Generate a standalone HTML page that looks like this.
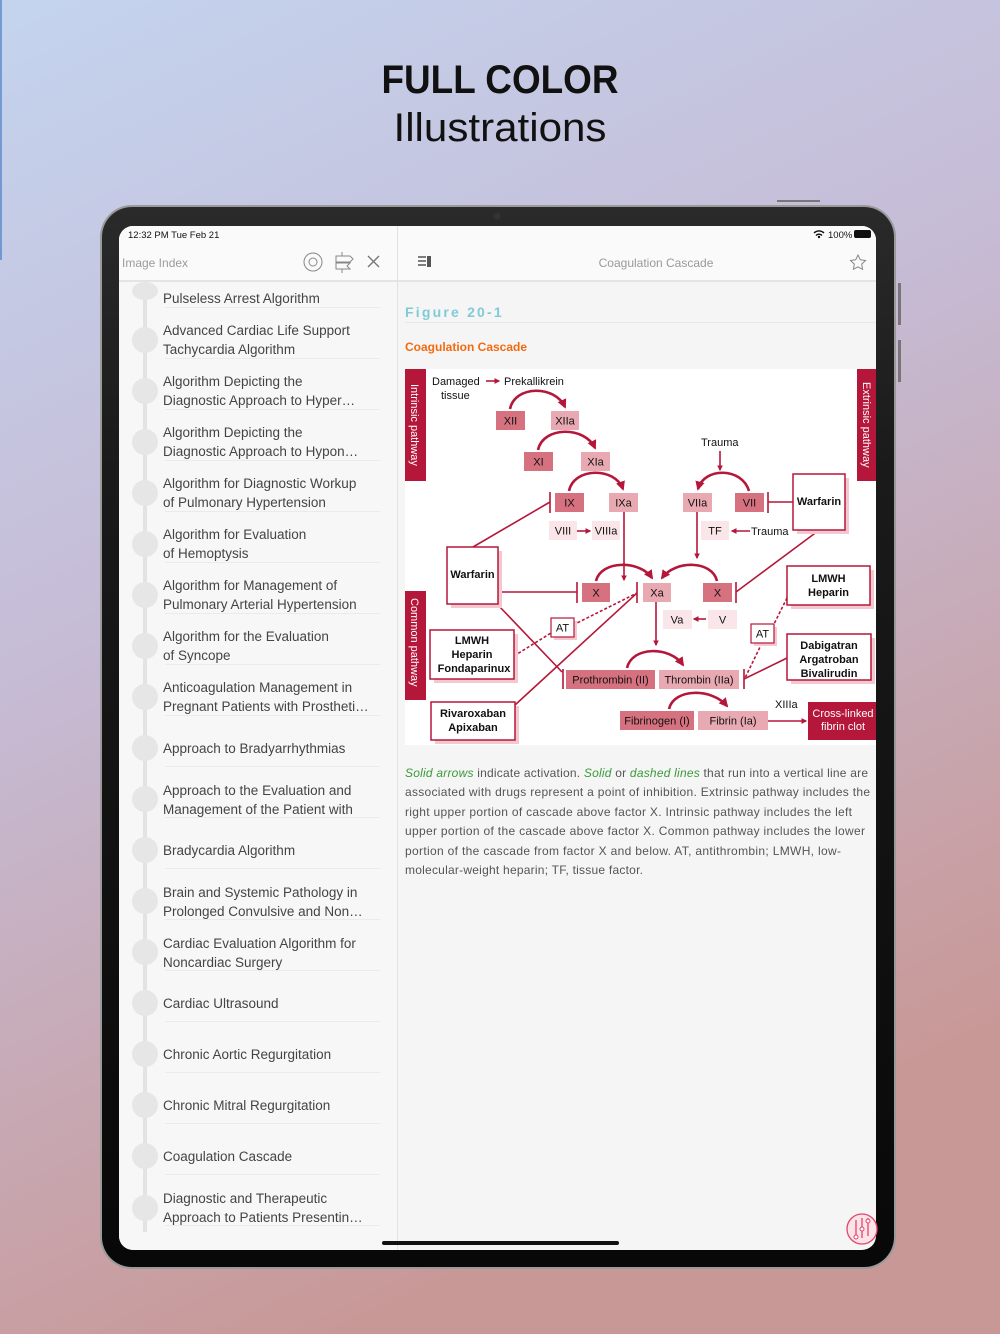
<!DOCTYPE html>
<html><head><meta charset="utf-8"><style>
html,body{margin:0;padding:0;width:1000px;height:1334px;overflow:hidden}
svg{display:block}
text{font-family:"Liberation Sans",sans-serif}
</style></head><body>
<svg width="1000" height="1334" viewBox="0 0 1000 1334" xmlns="http://www.w3.org/2000/svg">
<defs>
<linearGradient id="bg" x1="0" y1="0" x2="0.35" y2="1">
<stop offset="0" stop-color="#c4d4ef"/><stop offset="0.45" stop-color="#c6bcd6"/><stop offset="1" stop-color="#c89896"/>
</linearGradient>
<linearGradient id="bz" x1="0" y1="0" x2="0" y2="1">
<stop offset="0" stop-color="#2a2a2a"/><stop offset="0.25" stop-color="#1a1a1a"/><stop offset="1" stop-color="#080808"/>
</linearGradient>
<marker id="ah" viewBox="0 0 10 10" refX="8" refY="5" markerWidth="3.6" markerHeight="3.6" orient="auto"><path d="M0,0 L10,5 L0,10 z" fill="#b5173a"/></marker>
</defs>
<rect width="1000" height="1334" fill="url(#bg)"/>
<rect x="0" y="0" width="2" height="260" fill="#3a78c0" opacity="0.6"/>
<text x="500" y="93" text-anchor="middle" font-size="40" font-weight="bold" fill="#111" textLength="237" lengthAdjust="spacingAndGlyphs">FULL COLOR</text>
<text x="500" y="141" text-anchor="middle" font-size="40" fill="#111" textLength="213" lengthAdjust="spacingAndGlyphs">Illustrations</text>
<rect x="777" y="200" width="43" height="2" fill="#777"/>
<rect x="898" y="283" width="3" height="42" fill="#777"/>
<rect x="898" y="340" width="3" height="42" fill="#777"/>
<!-- tablet -->
<rect x="100" y="205" width="796" height="1064" rx="32" fill="#9a9a9a"/>
<rect x="102" y="207" width="792" height="1060" rx="30" fill="url(#bz)"/>
<circle cx="497" cy="216" r="3.5" fill="#333"/>
<rect x="119" y="226" width="757" height="1024" rx="14" fill="#f5f5f5"/>
<path d="M133,226 H397 V1250 H133 A14,14 0 0 1 119,1236 V240 A14,14 0 0 1 133,226z" fill="#f7f7f7"/>
<path d="M133,226 H862 A14,14 0 0 1 876,240 V281 H119 V240 A14,14 0 0 1 133,226z" fill="#fafafa"/>
<rect x="119" y="280" width="757" height="2" fill="#e4e4e4"/>
<rect x="397" y="226" width="1" height="1024" fill="#e2e2e2"/>
<text x="128" y="238" font-size="9.5" fill="#111">12:32 PM   Tue Feb 21</text>
<text x="828" y="238" font-size="9.5" fill="#111">100%</text>
<path d="M814,233 a7,7 0 0 1 10,0 M816,235.5 a4,4 0 0 1 6,0" stroke="#111" stroke-width="1.4" fill="none"/>
<circle cx="819" cy="237" r="1.2" fill="#111"/>
<rect x="854" y="230" width="17" height="8" rx="2" fill="#111"/>
<text x="122" y="267" font-size="12" fill="#9a9a9a">Image Index</text>
<circle cx="313" cy="262" r="9" fill="none" stroke="#888" stroke-width="1"/>
<circle cx="313" cy="262" r="4" fill="none" stroke="#888" stroke-width="1"/>
<path d="M336,256 h14 l3,3 l-3,3 h-14 z M336,263 h14 l-3,3 l3,3 h-14 z M342,252 v4 M342,269 v4" stroke="#888" fill="none" stroke-width="1"/>
<path d="M368,256 l11,11 M379,256 l-11,11" stroke="#777" stroke-width="1.4"/>
<path d="M418,257 h8 M418,261 h8 M418,265 h8" stroke="#555" stroke-width="1.5"/><rect x="427" y="256" width="4" height="11" fill="#555"/>
<text x="656" y="267" text-anchor="middle" font-size="12" fill="#999">Coagulation Cascade</text>
<path d="M858,255 l2.3,4.8 5.2,.7 -3.8,3.6 .9,5.2 -4.6,-2.5 -4.6,2.5 .9,-5.2 -3.8,-3.6 5.2,-.7z" fill="none" stroke="#888" stroke-width="1"/>
<!-- list -->
<g font-size="13.5" fill="#444">
<rect x="143" y="282" width="4" height="950" fill="#e3e3e3"/>
<g fill="#e6e6e6">
<ellipse cx="145" cy="291" rx="13" ry="9"/>
<circle cx="145" cy="340" r="13"/><circle cx="145" cy="391" r="13"/><circle cx="145" cy="442" r="13"/><circle cx="145" cy="493" r="13"/><circle cx="145" cy="544" r="13"/><circle cx="145" cy="595" r="13"/><circle cx="145" cy="646" r="13"/><circle cx="145" cy="697" r="13"/><circle cx="145" cy="748" r="13"/><circle cx="145" cy="799" r="13"/><circle cx="145" cy="850" r="13"/><circle cx="145" cy="901" r="13"/><circle cx="145" cy="952" r="13"/><circle cx="145" cy="1003" r="13"/><circle cx="145" cy="1054" r="13"/><circle cx="145" cy="1105" r="13"/><circle cx="145" cy="1156" r="13"/><circle cx="145" cy="1208" r="13"/>
</g>
<g fill="#444">
<text x="163" y="303">Pulseless Arrest Algorithm</text>
<text x="163" y="335">Advanced Cardiac Life Support</text><text x="163" y="354">Tachycardia Algorithm</text>
<text x="163" y="386">Algorithm Depicting the</text><text x="163" y="405">Diagnostic Approach to Hyper…</text>
<text x="163" y="437">Algorithm Depicting the</text><text x="163" y="456">Diagnostic Approach to Hypon…</text>
<text x="163" y="488">Algorithm for Diagnostic Workup</text><text x="163" y="507">of Pulmonary Hypertension</text>
<text x="163" y="539">Algorithm for Evaluation</text><text x="163" y="558">of Hemoptysis</text>
<text x="163" y="590">Algorithm for Management of</text><text x="163" y="609">Pulmonary Arterial Hypertension</text>
<text x="163" y="641">Algorithm for the Evaluation</text><text x="163" y="660">of Syncope</text>
<text x="163" y="692">Anticoagulation Management in</text><text x="163" y="711">Pregnant Patients with Prostheti…</text>
<text x="163" y="753">Approach to Bradyarrhythmias</text>
<text x="163" y="795">Approach to the Evaluation and</text><text x="163" y="814">Management of the Patient with</text>
<text x="163" y="855">Bradycardia Algorithm</text>
<text x="163" y="897">Brain and Systemic Pathology in</text><text x="163" y="916">Prolonged Convulsive and Non…</text>
<text x="163" y="948">Cardiac Evaluation Algorithm for</text><text x="163" y="967">Noncardiac Surgery</text>
<text x="163" y="1008">Cardiac Ultrasound</text>
<text x="163" y="1059">Chronic Aortic Regurgitation</text>
<text x="163" y="1110">Chronic Mitral Regurgitation</text>
<text x="163" y="1161">Coagulation Cascade</text>
<text x="163" y="1203">Diagnostic and Therapeutic</text><text x="163" y="1222">Approach to Patients Presentin…</text>
</g>
<g fill="#ebebeb">
<rect x="165" y="307" width="215" height="1"/><rect x="165" y="358" width="215" height="1"/><rect x="165" y="409" width="215" height="1"/><rect x="165" y="460" width="215" height="1"/><rect x="165" y="511" width="215" height="1"/><rect x="165" y="562" width="215" height="1"/><rect x="165" y="613" width="215" height="1"/><rect x="165" y="664" width="215" height="1"/><rect x="165" y="715" width="215" height="1"/><rect x="165" y="766" width="215" height="1"/><rect x="165" y="817" width="215" height="1"/><rect x="165" y="868" width="215" height="1"/><rect x="165" y="919" width="215" height="1"/><rect x="165" y="970" width="215" height="1"/><rect x="165" y="1021" width="215" height="1"/><rect x="165" y="1072" width="215" height="1"/><rect x="165" y="1123" width="215" height="1"/><rect x="165" y="1174" width="215" height="1"/><rect x="165" y="1225" width="215" height="1"/>
</g>
</g>
<!-- figure header -->
<text x="405" y="317" font-size="14" font-weight="bold" fill="#80cbd6" letter-spacing="2.2">Figure 20-1</text>
<rect x="405" y="322" width="471" height="1" fill="#dfe9ee"/>
<text x="405" y="351" font-size="12" font-weight="bold" fill="#f26a10">Coagulation Cascade</text>
<!-- diagram -->
<rect x="405" y="369" width="471" height="376" fill="#fff"/>
<rect x="405" y="369" width="21" height="112" fill="#b5173a"/>
<text transform="translate(411,384) rotate(90)" font-size="11" fill="#fff">Intrinsic pathway</text>
<rect x="857" y="369" width="19" height="112" fill="#b5173a"/>
<text transform="translate(863,382) rotate(90)" font-size="11" fill="#fff">Extrinsic pathway</text>
<rect x="405" y="591" width="21" height="109" fill="#b5173a"/>
<text transform="translate(411,598) rotate(90)" font-size="11" fill="#fff">Common pathway</text>
<g font-size="11" fill="#111">
<text x="432" y="385">Damaged</text><text x="441" y="399">tissue</text>
<text x="504" y="385">Prekallikrein</text>
<text x="701" y="446">Trauma</text>
<text x="751" y="535">Trauma</text>
<text x="775" y="708">XIIIa</text>
</g>
<g stroke="#b5173a" stroke-width="1.6" fill="none">
<path d="M486,381 H499" marker-end="url(#ah)"/>
<path d="M720,451 V470" marker-end="url(#ah)"/>
<path d="M577,531 H590" marker-end="url(#ah)"/>
<path d="M750,531 H732" marker-end="url(#ah)"/>
<path d="M624,512 V580" marker-end="url(#ah)"/>
<path d="M697,512 V558" marker-end="url(#ah)"/>
<path d="M706,619 H694" marker-end="url(#ah)"/>
<path d="M656,602 V645" marker-end="url(#ah)"/>
<path d="M768,721 H806" marker-end="url(#ah)"/>
<!-- inhibition -->
<path d="M768,492 V513 M768,502 H793"/>
<path d="M550,492 V513 M550,502 L473,547"/>
<path d="M498,592 H577 M577,582 V603"/>
<path d="M637,582 V603 M637,593 L515,705"/>
<path d="M736,582 V603 M736,592 L818,531"/>
<path d="M498,605 L562,672 M563,669 V689"/>
<path d="M744,669 V689 M744,679 L787,658"/>
<path d="M514,656 L551,633 M573,625 L637,593 M787,598 L774,624 M762,643 L745,678" stroke-dasharray="3,2"/>
</g>
<g stroke="#b5173a" stroke-width="2.6" fill="none">
<path d="M510,409 C515,385 555,385 565,407" marker-end="url(#ah)"/>
<path d="M538,450 C543,426 585,426 595,448" marker-end="url(#ah)"/>
<path d="M569,491 C574,467 615,467 623,489" marker-end="url(#ah)"/>
<path d="M749,491 C742,467 704,467 698,489" marker-end="url(#ah)"/>
<path d="M596,581 C601,560 640,560 652,578" marker-end="url(#ah)"/>
<path d="M717,581 C712,560 675,560 662,578" marker-end="url(#ah)"/>
<path d="M627,668 C632,646 670,646 683,665" marker-end="url(#ah)"/>
<path d="M669,709 C674,688 712,688 727,706" marker-end="url(#ah)"/>
</g>
<!-- boxes -->
<g font-size="11" text-anchor="middle" fill="#111">
<rect x="496" y="411" width="29" height="19" fill="#d6717f"/><text x="510.5" y="424.5">XII</text>
<rect x="551" y="411" width="28" height="19" fill="#e9a9b2"/><text x="565" y="424.5">XIIa</text>
<rect x="524" y="452" width="29" height="19" fill="#d6717f"/><text x="538.5" y="465.5">XI</text>
<rect x="581" y="452" width="29" height="19" fill="#e9a9b2"/><text x="595.5" y="465.5">XIa</text>
<rect x="555" y="493" width="29" height="19" fill="#d6717f"/><text x="569.5" y="506.5">IX</text>
<rect x="609" y="493" width="29" height="19" fill="#e9a9b2"/><text x="623.5" y="506.5">IXa</text>
<rect x="549" y="521" width="28" height="19" fill="#fae6e9"/><text x="563" y="534.5">VIII</text>
<rect x="592" y="521" width="28" height="19" fill="#fae6e9"/><text x="606" y="534.5">VIIIa</text>
<rect x="683" y="493" width="29" height="19" fill="#e9a9b2"/><text x="697.5" y="506.5">VIIa</text>
<rect x="735" y="493" width="29" height="19" fill="#d6717f"/><text x="749.5" y="506.5">VII</text>
<rect x="701" y="521" width="28" height="19" fill="#fae6e9"/><text x="715" y="534.5">TF</text>
<rect x="582" y="583" width="28" height="19" fill="#d6717f"/><text x="596" y="596.5">X</text>
<rect x="643" y="583" width="28" height="19" fill="#e9a9b2"/><text x="657" y="596.5">Xa</text>
<rect x="703" y="583" width="29" height="19" fill="#d6717f"/><text x="717.5" y="596.5">X</text>
<rect x="663" y="610" width="29" height="19" fill="#fae6e9"/><text x="677" y="623.5">Va</text>
<rect x="708" y="610" width="29" height="19" fill="#fae6e9"/><text x="722.5" y="623.5">V</text>
<rect x="566" y="670" width="89" height="19" fill="#d6717f"/><text x="610.5" y="683.5">Prothrombin (II)</text>
<rect x="659" y="670" width="80" height="19" fill="#e9a9b2"/><text x="699" y="683.5">Thrombin (IIa)</text>
<rect x="620" y="711" width="74" height="19" fill="#d6717f"/><text x="657" y="724.5">Fibrinogen (I)</text>
<rect x="698" y="711" width="70" height="19" fill="#e9a9b2"/><text x="733" y="724.5">Fibrin (Ia)</text>
<rect x="808" y="702" width="68" height="38" fill="#b5173a"/><text x="843" y="717" fill="#fff">Cross-linked</text><text x="843" y="730" fill="#fff">fibrin clot</text>
</g>
<g font-size="11" font-weight="bold" text-anchor="middle" fill="#111">
<rect x="797" y="478" width="52" height="56" fill="#f3c9cf"/><rect x="793" y="474" width="52" height="56" fill="#fff" stroke="#b5173a" stroke-width="1.5"/><text x="819" y="505">Warfarin</text>
<rect x="451" y="551" width="51" height="57" fill="#f3c9cf"/><rect x="447" y="547" width="51" height="57" fill="#fff" stroke="#b5173a" stroke-width="1.5"/><text x="472.5" y="578">Warfarin</text>
<rect x="791" y="570" width="83" height="39" fill="#f3c9cf"/><rect x="787" y="566" width="83" height="39" fill="#fff" stroke="#b5173a" stroke-width="1.5"/><text x="828.5" y="582">LMWH</text><text x="828.5" y="596">Heparin</text>
<rect x="791" y="638" width="84" height="46" fill="#f3c9cf"/><rect x="787" y="634" width="84" height="46" fill="#fff" stroke="#b5173a" stroke-width="1.5"/><text x="829" y="649">Dabigatran</text><text x="829" y="663">Argatroban</text><text x="829" y="677">Bivalirudin</text>
<rect x="434" y="634" width="84" height="49" fill="#f3c9cf"/><rect x="430" y="630" width="84" height="49" fill="#fff" stroke="#b5173a" stroke-width="1.5"/><text x="472" y="644">LMWH</text><text x="472" y="658">Heparin</text><text x="474" y="672">Fondaparinux</text>
<rect x="435" y="706" width="84" height="38" fill="#f3c9cf"/><rect x="431" y="702" width="84" height="38" fill="#fff" stroke="#b5173a" stroke-width="1.5"/><text x="473" y="717">Rivaroxaban</text><text x="473" y="731">Apixaban</text>
</g>
<g font-size="11" text-anchor="middle" fill="#111">
<rect x="554" y="621" width="23" height="19" fill="#f3c9cf"/><rect x="551" y="618" width="23" height="19" fill="#fff" stroke="#b5173a" stroke-width="1.2"/><text x="562.5" y="631.5">AT</text>
<rect x="754" y="627" width="23" height="19" fill="#f3c9cf"/><rect x="751" y="624" width="23" height="19" fill="#fff" stroke="#b5173a" stroke-width="1.2"/><text x="762.5" y="637.5">AT</text>
</g>
<!-- caption -->
<g font-size="12" fill="#555">
<text x="405" y="777" textLength="463" lengthAdjust="spacing"><tspan fill="#3a9a3a" font-style="italic">Solid arrows</tspan> indicate activation. <tspan fill="#3a9a3a" font-style="italic">Solid</tspan> or <tspan fill="#3a9a3a" font-style="italic">dashed lines</tspan> that run into a vertical line are</text>
<text x="405" y="796" textLength="465" lengthAdjust="spacing">associated with drugs represent a point of inhibition. Extrinsic pathway includes the</text>
<text x="405" y="816" textLength="447" lengthAdjust="spacing">right upper portion of cascade above factor X. Intrinsic pathway includes the left</text>
<text x="405" y="835" textLength="460" lengthAdjust="spacing">upper portion of the cascade above factor X. Common pathway includes the lower</text>
<text x="405" y="855" textLength="436" lengthAdjust="spacing">portion of the cascade from factor X and below. AT, antithrombin; LMWH, low-</text>
<text x="405" y="874" textLength="238" lengthAdjust="spacing">molecular-weight heparin; TF, tissue factor.</text>
</g>
<!-- bottom -->
<circle cx="862" cy="1229" r="15" fill="#fbe3e8" stroke="#e0476a" stroke-width="1.3"/>
<path d="M856,1220 V1236 M862,1218 V1238 M868,1218 V1236" stroke="#e0476a" stroke-width="1.3"/>
<circle cx="856" cy="1237" r="2" fill="#fff" stroke="#e0476a"/><circle cx="862" cy="1229" r="2" fill="#fff" stroke="#e0476a"/><circle cx="868" cy="1221" r="2" fill="#fff" stroke="#e0476a"/>
<rect x="382" y="1241" width="237" height="4" rx="2" fill="#111"/>
</svg>
</body></html>
